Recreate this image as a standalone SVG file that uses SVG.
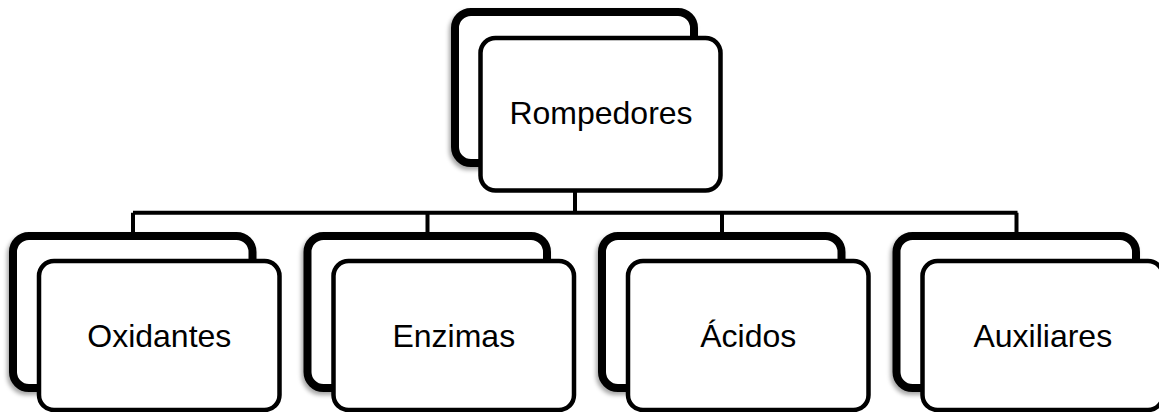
<svg xmlns="http://www.w3.org/2000/svg" width="1159" height="412" viewBox="0 0 1159 412">
<defs>
<filter id="sh" x="-10%" y="-10%" width="120%" height="125%">
<feDropShadow dx="-2" dy="3" stdDeviation="2" flood-color="#000" flood-opacity="0.35"/>
</filter>
<style>
.back{fill:#fff;stroke:#000;stroke-width:8;filter:url(#sh)}
.front{fill:#fff;stroke:#000;stroke-width:4.5}
.lbl{font-family:"Liberation Sans",Arial,sans-serif;font-size:32px;fill:#000;text-anchor:middle}
.con{fill:none;stroke:#000;stroke-width:4}
</style>
</defs>
<rect width="1159" height="412" fill="#fff"/>
<g id="connectors">
<path class="con" d="M575 190 V212.7 M133 212.7 H1017.5 M133 212.7 V236 M427.5 212.7 V236 M722 212.7 V236 M1016.5 212.7 V236"/>
</g>
<g id="node-rompedores">
<rect class="back" x="455" y="12" width="239" height="151" rx="16"/>
<rect class="front" x="480.5" y="38" width="240" height="152.5" rx="15"/>
<text class="lbl" x="601" y="123.5">Rompedores</text>
</g>
<g id="node-oxidantes">
<rect class="back" x="13" y="236" width="239.5" height="152" rx="16"/>
<rect class="front" x="39" y="261" width="240.5" height="149" rx="15"/>
<text class="lbl" x="159.3" y="347.3">Oxidantes</text>
</g>
<g id="node-enzimas">
<rect class="back" x="307.5" y="236" width="239.5" height="152" rx="16"/>
<rect class="front" x="333.5" y="261" width="240.5" height="149" rx="15"/>
<text class="lbl" x="453.8" y="347.3">Enzimas</text>
</g>
<g id="node-acidos">
<rect class="back" x="602" y="236" width="239.5" height="152" rx="16"/>
<rect class="front" x="628" y="261" width="240.5" height="149" rx="15"/>
<text class="lbl" x="748.3" y="347.3">Ácidos</text>
</g>
<g id="node-auxiliares">
<rect class="back" x="896.5" y="236" width="239.5" height="152" rx="16"/>
<rect class="front" x="922.5" y="261" width="240.5" height="149" rx="15"/>
<text class="lbl" x="1042.8" y="347.3">Auxiliares</text>
</g>
</svg>
